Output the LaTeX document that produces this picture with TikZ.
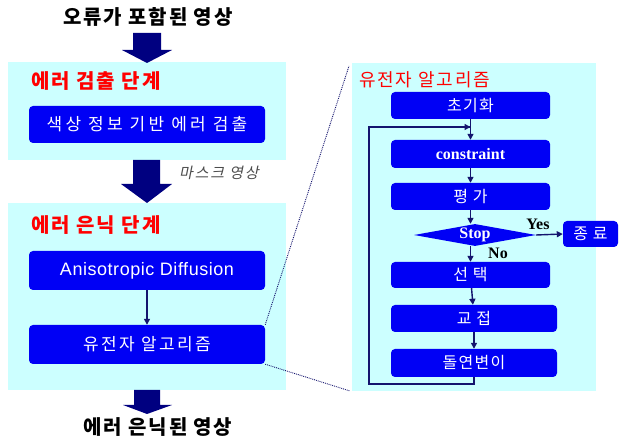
\documentclass[tikz,border=0pt]{standalone}
\usepackage{fontspec}
\setmainfont{Noto Sans CJK KR}
\newfontfamily\krslant{Noto Sans CJK KR}[FakeSlant=0.2]
\newfontfamily\tms{Liberation Serif}
\newfontfamily\ari{Liberation Sans}
\usetikzlibrary{arrows.meta,shapes.geometric}
\definecolor{panelc}{RGB}{204,255,255}
\definecolor{boxblue}{RGB}{0,0,245}
\definecolor{navyc}{RGB}{0,0,128}
\definecolor{linec}{RGB}{20,20,110}
\definecolor{redc}{RGB}{255,0,0}
\newcommand\ls[1]{\addfontfeatures{LetterSpace=#1}}
\tikzset{
  panel/.style={fill=panelc, draw=none, inner sep=0pt},
  gbox/.style={fill=boxblue, draw=none, rounded corners=4pt, text=white, inner sep=0pt},
  heading/.style={text=redc, font=\fontsize{20}{22}\selectfont\bfseries\ls{10}, anchor=west, inner sep=0pt},
  ttl/.style={font=\fontsize{20}{22}\selectfont\bfseries\ls{9}, inner sep=0pt},
  ltxt/.style={font=\fontsize{17}{19}\selectfont\ls{14}},
  stxt/.style={font=\fontsize{16}{18}\selectfont\ls{8}},
  conn/.style={draw=linec, line width=1.4pt, -{Triangle[length=6pt,width=6pt]}},
  loopline/.style={draw=linec, line width=2.2pt},
  dotline/.style={draw=linec, line width=0.9pt, densely dotted},
  bigarrow/.style={fill=navyc, draw=none}
}
\begin{document}
\begin{tikzpicture}[x=1pt,y=-1pt]
\useasboundingbox (0,0) rectangle (622,443);
% left column
\node[ttl] (in) at (148,17) {오류가 포함된 영상};
\node[panel, minimum width=278pt, minimum height=98pt] (p1) at (147,111) {};
\node[heading] (h1) at (31,81) {에러 검출 단계};
\node[gbox, minimum width=236pt, minimum height=37pt, font=\fontsize{17}{19}\selectfont\ls{19}] (b1) at (147,124.5) {색상 정보 기반 에러 검출};
\node[panel, minimum width=278pt, minimum height=187pt] (p2) at (147,296.5) {};
\node[heading] (h2) at (31,225) {에러 은닉 단계};
\node[gbox, minimum width=236pt, minimum height=39pt, font=\ari\fontsize{18}{20}\selectfont\ls{3}] (b2) at (147,270.5) {Anisotropic Diffusion};
\node[gbox, ltxt, minimum width=236pt, minimum height=39pt] (b3) at (147,344.5) {유전자 알고리즘};
\draw[conn] (b2) -- (b3);
\node[text=black!70, font=\krslant\fontsize{15}{17}\selectfont\ls{12}, inner sep=0pt] (mask) at (219,173) {마스크 영상};
\node[ttl] (out) at (158,427) {에러 은닉된 영상};
% big arrows
\fill[bigarrow] (133,33) -- (161,33) -- (161,50) -- (172,50) -- (147,63) -- (122,50) -- (133,50) -- cycle;
\fill[bigarrow] (133,160) -- (160,160) -- (160,184) -- (172,184) -- (147,203) -- (121,184) -- (133,184) -- cycle;
\fill[bigarrow] (134,390) -- (160,390) -- (160,405) -- (172,405) -- (147,414) -- (123,405) -- (134,405) -- cycle;
% right panel
\node[panel, minimum width=244pt, minimum height=328pt] (p3) at (474,227) {};
\node[text=redc, anchor=west, inner sep=0pt, font=\fontsize{18}{20}\selectfont\ls{10}] (h3) at (359,80) {유전자 알고리즘};
\node[gbox, stxt, minimum width=159pt, minimum height=27pt] (r1) at (470.5,105.5) {초기화};
\node[gbox, minimum width=159pt, minimum height=28pt, font=\tms\bfseries\fontsize{16}{18}\selectfont] (r2) at (470.5,154) {constraint};
\node[gbox, stxt, minimum width=159pt, minimum height=27pt] (r3) at (470.5,196.5) {평 가};
\node[diamond, fill=boxblue, draw=none, inner sep=0pt, minimum width=122pt, minimum height=22pt] (dm) at (475,235) {};
\node[text=white, inner sep=0pt, font=\tms\bfseries\fontsize{16}{18}\selectfont] (stop) at (dm.center) {Stop};
\node[gbox, stxt, minimum width=55pt, minimum height=26pt] (en) at (590.5,234) {종 료};
\node[gbox, stxt, minimum width=159pt, minimum height=26pt] (r4) at (470.5,275) {선 택};
\node[gbox, stxt, minimum width=166pt, minimum height=27pt] (r5) at (474,318.5) {교 접};
\node[gbox, stxt, minimum width=166pt, minimum height=28pt] (r6) at (474,363) {돌연변이};
\node[font=\tms\bfseries\fontsize{16}{18}\selectfont, inner sep=0pt] (yes) at (538,224) {Yes};
\node[font=\tms\bfseries\fontsize{16}{18}\selectfont, inner sep=0pt] (no) at (498,253) {No};
\draw[conn] (r1) -- (r2);
\draw[conn] (r2) -- (r3);
\draw[conn] (r3.south) -- (r3.south |- dm.north);
\draw[conn] (dm.east) -- (en.west);
\draw[conn] (r3.south |- dm.south) -- (r4.north);
\draw[conn] (r4) -- (r5);
\draw[conn] (r5) -- (r6);
\coordinate (lb) at (369,384);
\coordinate (lt) at (369,127);
\coordinate (j) at (r1.south |- lt);
\draw[loopline] (r6.south) |- (lb) -- (lt) -- ([xshift=-1pt]j);
\draw[conn] (lt) -- (j);
% dotted zoom lines
\coordinate (d1) at (349,66);
\coordinate (d2) at (350,391);
\draw[dotline] (b3.north east) -- (d1);
\draw[dotline] (b3.south east) -- (d2);
\end{tikzpicture}
\end{document}
